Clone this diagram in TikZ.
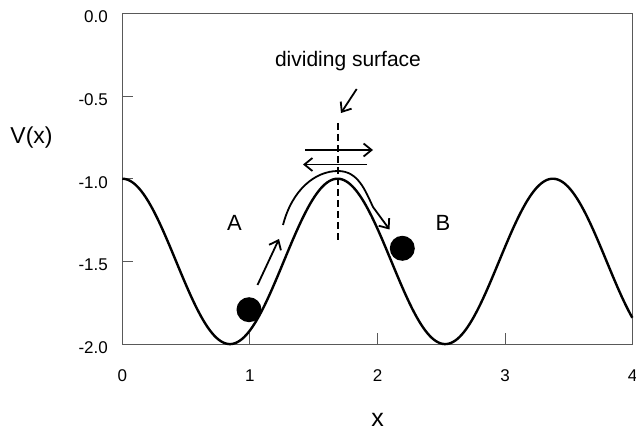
\documentclass[tikz,border=0pt]{standalone}
\usepackage{fontspec}
\setmainfont{Liberation Sans}
\usetikzlibrary{arrows.meta}
\begin{document}
\begin{tikzpicture}[x=1bp,y=-1bp,
  axisline/.style={draw=black!65, line width=0.9bp},
  ticklab/.style={font=\fontsize{17bp}{19bp}\selectfont, inner sep=0pt},
  biglab/.style={font=\fontsize{22bp}{24bp}\selectfont, inner sep=0pt, anchor=base},
  potential/.style={line width=2.4bp},
  motion/.style={line width=1.8bp, -{Straight Barb[length=8bp,width=13bp,line width=1.8bp]}},
  ball/.style={circle, fill=black, minimum size=25bp, inner sep=0pt},
  surf/.style={line width=1.6bp, dash pattern=on 7bp off 4bp}]
\useasboundingbox (0,0) rectangle (636,433);
% axes box
\draw[axisline] (122.3,13.3) rectangle (632.7,344);
% ticks
\foreach \i in {1,2,3} \draw[axisline] ({122.3+127.6*\i},344) -- ({122.3+127.6*\i},333);
\foreach \v in {0.5,1.0,1.5} \draw[axisline] (122.3,{13.3+165.4*\v}) -- (133,{13.3+165.4*\v});
% tick labels
\foreach \i in {0,1,2,3,4} \node[ticklab, anchor=base] (xl\i) at ({122.3+127.6*\i},381.3) {\i};
\node[ticklab, anchor=base east] (yl0) at (108,22.7) {0.0};
\node[ticklab, anchor=base east] (yl1) at (108,105.5) {-0.5};
\node[ticklab, anchor=base east] (yl2) at (108,188.5) {-1.0};
\node[ticklab, anchor=base east] (yl3) at (108,271) {-1.5};
\node[ticklab, anchor=base east] (yl4) at (108,353.5) {-2.0};
% axis titles
\node[font=\fontsize{23bp}{25bp}\selectfont, inner sep=0pt, anchor=base] (vx) at (31.5,144) {V(x)};
\node[font=\fontsize{25bp}{27bp}\selectfont, inner sep=0pt, anchor=base] (xx) at (377.7,426.3) {x};
% potential
\draw[potential] plot[domain=0:4, samples=240]
  ({122.3+127.6*\x}, {13.3-165.4*(-1.5+0.5*cos(2*pi*\x/1.687 r))});
% labels
\node[biglab] (A) at (234.5,231) {A};
\node[biglab] (B) at (443,231) {B};
\node[font=\fontsize{21bp}{23bp}\selectfont, inner sep=0pt, anchor=base] (ds) at (348,66.5) {dividing surface};
% dividing surface
\coordinate (dstop) at (337.7,123);
\coordinate (dsbot) at (337.7,244);
\draw[surf] (dstop) -- (dsbot);
\coordinate (dsa1) at (356.7,89);
\coordinate (dsa2) at (341,113);
\draw[motion] (dsa1) -- (dsa2);
% balls
\node[ball] (ballA) at (249,309.7) {};
\node[ball] (ballB) at (402.3,248.3) {};
% arrows
\coordinate (r1) at (305,150);
\coordinate (r2) at (373,150);
\draw[motion] (r1) -- (r2);
\coordinate (l1) at (367,164.5);
\coordinate (l2) at (303,164.5);
\draw[motion] (l1) -- (l2);
\coordinate (u1) at (257.5,285);
\coordinate (u2) at (279,239);
\draw[motion] (u1) -- (u2);
\coordinate (c1) at (283,225);
\coordinate (cpk) at (338,171);
\coordinate (c2) at (389.5,229.5);
\draw[motion] (c1) .. controls (292,190) and (315,171) .. (cpk)
  .. controls (358,171) and (365,190) .. (373,207) -- (c2);
\end{tikzpicture}
\end{document}
